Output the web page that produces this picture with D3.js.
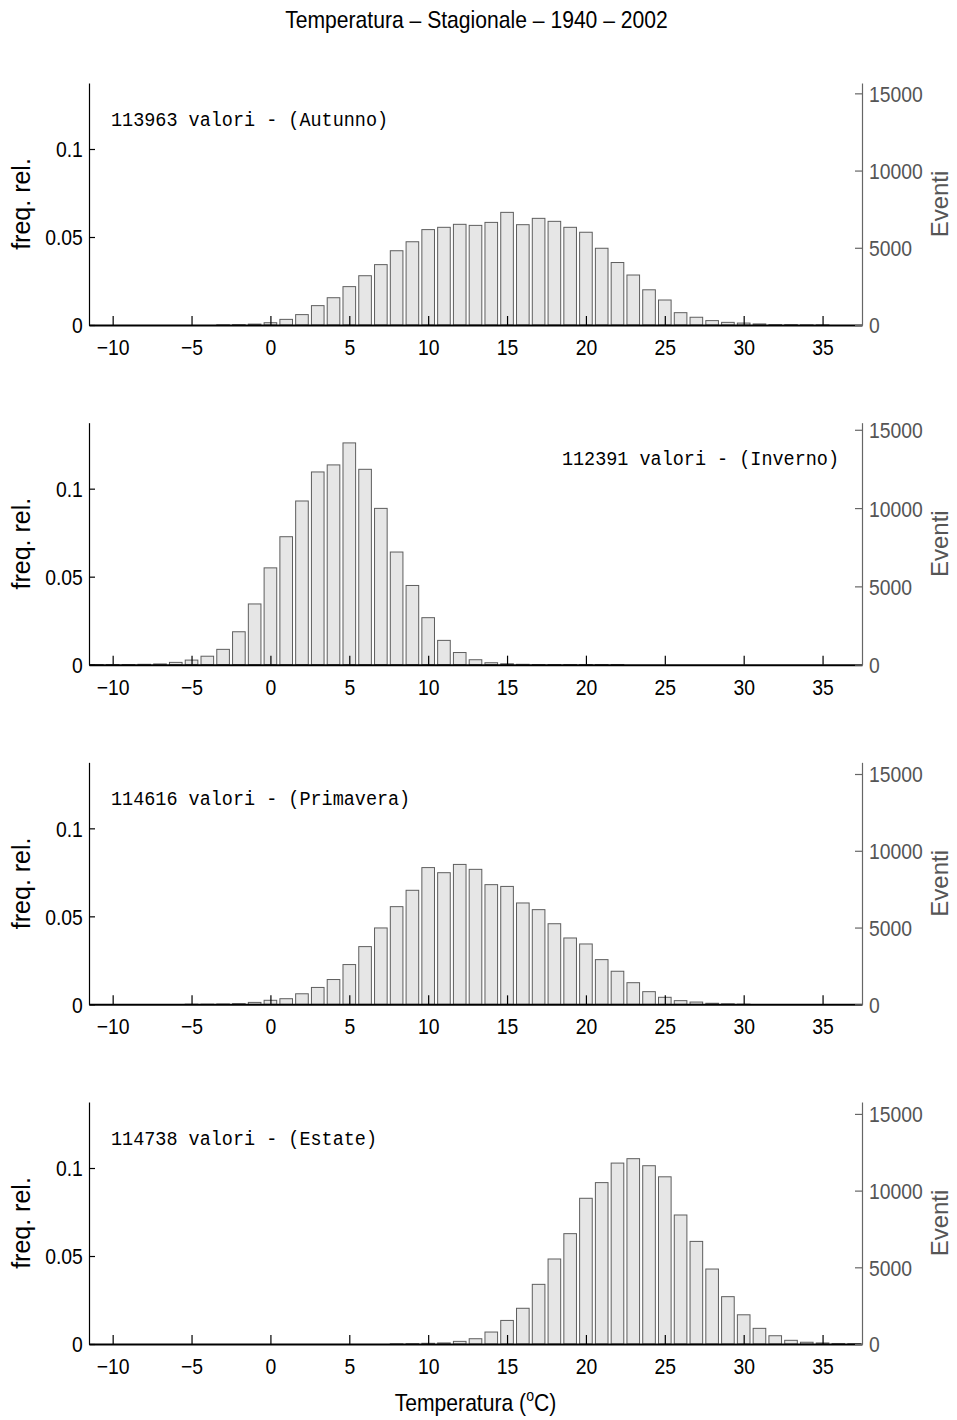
<!DOCTYPE html>
<html>
<head>
<meta charset="utf-8">
<script src="https://cdn.jsdelivr.net/npm/d3@7"></script>
<style>
  html, body { margin: 0; padding: 0; background: #fff; }
  svg { display: block; }
</style>
</head>
<body>
<svg id="chart" width="957" height="1420"></svg>
<script>
// ---- DATA ----
const temps = [-11,-10,-9,-8,-7,-6,-5,-4,-3,-2,-1,0,1,2,3,4,5,6,7,8,9,10,11,12,13,14,15,16,17,18,19,20,21,22,23,24,25,26,27,28,29,30,31,32,33,34,35,36,37];

const autunno = [0,0,0,0,0,0,0,0,0.0001,0.0002,0.0005,0.0013,0.0032,0.0059,0.011,0.0155,0.0218,0.028,0.0343,0.0422,0.0473,0.0542,0.0555,0.0572,0.0566,0.0583,0.064,0.057,0.0606,0.0589,0.0555,0.0527,0.0436,0.0355,0.0284,0.020,0.0142,0.007,0.0044,0.0025,0.0015,0.0011,0.0006,0.0002,0.0002,0.0001,0.0001,0,0];

const inverno = [0.0001,0.0001,0.0001,0.0002,0.0004,0.0013,0.0026,0.0048,0.0087,0.0187,0.0345,0.055,0.0727,0.093,0.1095,0.1135,0.126,0.111,0.0888,0.064,0.045,0.0267,0.0138,0.0069,0.0028,0.0011,0.0005,0.0002,0.0001,0.0001,0.0001,0.0001,0.0001,0.0001,0,0,0,0,0,0,0,0,0,0,0,0,0,0,0];

const primavera = [0,0,0,0,0,0,0.0001,0.0001,0.0002,0.0004,0.0011,0.0023,0.0032,0.006,0.0096,0.0141,0.0226,0.0328,0.0434,0.0555,0.0648,0.0777,0.0748,0.0795,0.0767,0.068,0.067,0.0576,0.0538,0.0458,0.0377,0.0343,0.0254,0.0188,0.0123,0.0072,0.004,0.0021,0.0013,0.0006,0.0003,0.0001,0,0,0,0,0,0,0];

const estate = [0,0,0,0,0,0,0,0,0,0,0,0,0,0,0,0,0,0,0,0.0001,0.0002,0.0004,0.0006,0.0015,0.003,0.0068,0.0134,0.0203,0.0339,0.0483,0.0627,0.0828,0.0917,0.1028,0.1053,0.1013,0.095,0.0733,0.0583,0.0426,0.0269,0.0166,0.0089,0.0047,0.0021,0.001,0.0006,0.0003,0.0002];

const seasonNames = ["Autunno", "Inverno", "Primavera", "Estate"];
const seasonTotals = [113963, 112391, 114616, 114738];
const seasonSeries = [autunno, inverno, primavera, estate];

const xTicks = [-10, -5, 0, 5, 10, 15, 20, 25, 30, 35];
const yTicks = [0, 0.05, 0.1];
const yRightTicks = [0, 5000, 10000, 15000];

const titleText = "Temperatura \u2013 Stagionale \u2013 1940 \u2013 2002";
const yLabel = "freq. rel.";
const yRightLabel = "Eventi";

// ---- LAYOUT ----
const svg = d3.select("#chart");
const left = 89, right = 862;
const panelH = 242;
const firstTop = 83, panelStep = 339.67;
const SX = 0.88;
const sansFont = "'Liberation Sans', Arial, Helvetica, sans-serif";
const monoFont = "'Liberation Mono', 'Courier New', monospace";

const x = d3.scaleLinear().domain([-11.5, 37.5]).range([left, right]);
const barW = (x(1) - x(0)) * 0.8;

// Title
svg.append("text")
  .attr("transform", `translate(476.5,28) scale(${SX},1)`)
  .attr("text-anchor", "middle")
  .attr("font-family", sansFont)
  .attr("font-size", 24)
  .attr("fill", "#000")
  .text(titleText);

seasonSeries.forEach((series, i) => {
  const top = firstTop + i * panelStep;
  const bottom = top + panelH;
  const N = seasonTotals[i];
  const y = d3.scaleLinear().domain([0, 0.1375]).range([bottom, top]);
  const yR = d3.scaleLinear().domain([0, 0.1375 * N]).range([bottom, top]);

  const g = svg.append("g");

  // bars
  const data = temps.map((t, k) => ({ t, v: series[k] })).filter(d => d.v > 0);
  g.append("g").selectAll("rect").data(data).join("rect")
    .attr("x", d => x(d.t) - barW / 2)
    .attr("width", barW)
    .attr("y", d => y(d.v))
    .attr("height", d => bottom - y(d.v))
    .attr("fill", "#e6e6e6")
    .attr("stroke", "#5e5e5e")
    .attr("stroke-width", 1);

  // x axis
  const xa = g.append("g").attr("transform", `translate(0,${bottom})`)
    .call(d3.axisBottom(x).tickValues(xTicks).tickSizeInner(-9).tickSizeOuter(0)
      .tickFormat(d => d < 0 ? "\u2212" + (-d) : String(d)));
  xa.select(".domain").attr("stroke", "#000").attr("stroke-width", 2);
  xa.selectAll(".tick line").attr("stroke", "#000").attr("stroke-width", 1.2);
  xa.selectAll(".tick text")
    .attr("y", 30).attr("dy", 0)
    .attr("transform", `scale(${SX},1)`)
    .attr("font-family", sansFont).attr("font-size", 22).attr("fill", "#000");

  // left axis
  const ya = g.append("g").attr("transform", `translate(${left},0)`)
    .call(d3.axisLeft(y).tickValues(yTicks).tickSizeInner(-6).tickSizeOuter(0)
      .tickFormat(d => d === 0 ? "0" : String(d)));
  ya.select(".domain").attr("stroke", "#000").attr("stroke-width", 1.2);
  ya.selectAll(".tick line").attr("stroke", "#000").attr("stroke-width", 1.2);
  ya.selectAll(".tick text")
    .attr("x", -7).attr("dy", "0.36em")
    .attr("transform", `scale(${SX},1)`)
    .attr("font-family", sansFont).attr("font-size", 22).attr("fill", "#000");

  // right axis
  const yra = g.append("g").attr("transform", `translate(${right},0)`)
    .call(d3.axisRight(yR).tickValues(yRightTicks).tickSizeInner(-7).tickSizeOuter(0)
      .tickFormat(d => String(d)));
  yra.select(".domain").attr("stroke", "#666").attr("stroke-width", 1.2);
  yra.selectAll(".tick line").attr("stroke", "#666").attr("stroke-width", 1.2);
  yra.selectAll(".tick text")
    .attr("x", 8).attr("dy", "0.36em")
    .attr("transform", `scale(${SX},1)`)
    .attr("font-family", sansFont).attr("font-size", 22).attr("fill", "#555");

  // y labels
  g.append("text")
    .attr("transform", `translate(30,${(top + bottom) / 2}) rotate(-90)`)
    .attr("text-anchor", "middle")
    .attr("font-family", sansFont).attr("font-size", 25).attr("fill", "#000")
    .text(yLabel);
  g.append("text")
    .attr("transform", `translate(948,${(top + bottom) / 2}) rotate(-90)`)
    .attr("text-anchor", "middle")
    .attr("font-family", sansFont).attr("font-size", 24).attr("fill", "#555")
    .text(yRightLabel);

  // annotation
  const label = `${N} valori - (${seasonNames[i]})`;
  const isRight = i === 1;
  g.append("text")
    .attr("transform", `translate(${isRight ? 839 : 111},${top + 42.5}) scale(${SX},1)`)
    .attr("text-anchor", isRight ? "end" : "start")
    .attr("font-family", monoFont).attr("font-size", 21).attr("fill", "#000")
    .text(label);
});

// x label
const xl = svg.append("text")
  .attr("transform", `translate(475.5,1411) scale(${SX},1)`)
  .attr("text-anchor", "middle")
  .attr("font-family", sansFont).attr("font-size", 24).attr("fill", "#000");
xl.append("tspan").text("Temperatura (");
xl.append("tspan").attr("font-size", 16).attr("dy", -10).text("o");
xl.append("tspan").attr("dy", 10).text("C)");
</script>
</body>
</html>
